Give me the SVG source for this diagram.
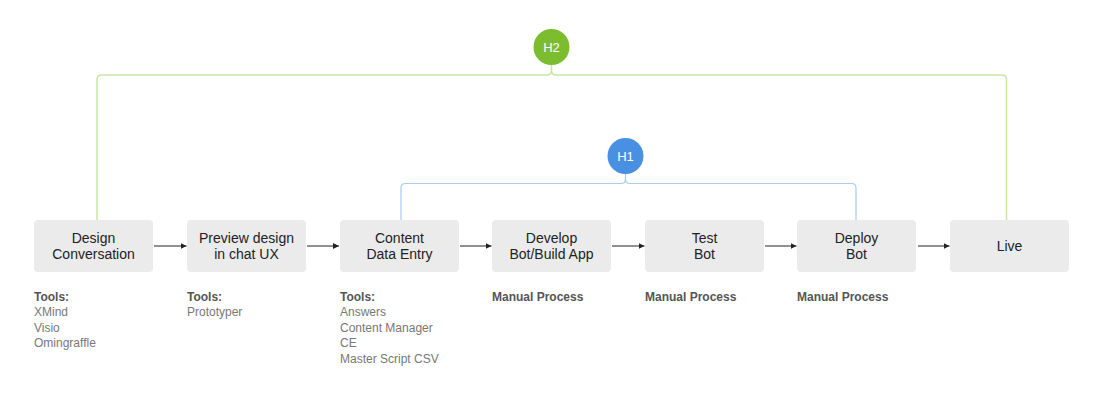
<svg xmlns="http://www.w3.org/2000/svg" width="1100" height="404" viewBox="0 0 1100 404">
<defs>
<style>
.box{fill:#EBEBEB;}
.bt{font-family:"Liberation Sans",Arial,sans-serif;font-size:14px;fill:#222;text-anchor:middle;}
.lh{font-family:"Liberation Sans",Arial,sans-serif;font-size:12px;font-weight:bold;fill:#555;}
.li{font-family:"Liberation Sans",Arial,sans-serif;font-size:12px;fill:#777;}
.ct{font-family:"Liberation Sans",Arial,sans-serif;font-size:13px;fill:#fff;text-anchor:middle;}
.arr{stroke:#222;stroke-width:1;fill:none;marker-end:url(#ah);}
.g{stroke:#C8E6A8;stroke-width:1.5;fill:none;}
.b{stroke:#A9CCF3;stroke-width:1.2;fill:none;}
</style>
<marker id="ah" viewBox="0 0 6 6" refX="6" refY="3" markerWidth="6" markerHeight="6" markerUnits="userSpaceOnUse" orient="auto">
<path d="M0,0 L6,3 L0,6 z" fill="#222"/>
</marker>
</defs>
<rect width="1100" height="404" fill="#fff"/>
<g id="connectors">
<path class="arr" d="M154,246 H186.5"/>
<path class="arr" d="M307,246 H339"/>
<path class="arr" d="M460,246 H491.5"/>
<path class="arr" d="M612,246 H644.5"/>
<path class="arr" d="M765,246 H796.5"/>
<path class="arr" d="M918,246 H949.5"/>
<path class="g" d="M97,220 V79.5 Q97,75 101.5,75 H547 Q551.5,75 551.5,70 Q551.5,75 556,75 H1002 Q1006.5,75 1006.5,79.5 V220"/>
<path class="g" d="M551.5,64 V70"/>
<path class="b" d="M401,220 V188 Q401,183.5 405.5,183.5 H621 Q625.5,183.5 625.5,179 Q625.5,183.5 630,183.5 H851.5 Q856,183.5 856,188 V220"/>
<path class="b" d="M625.5,174 V179"/>
</g>
<g id="h2"><circle cx="551.5" cy="47" r="18" fill="#7BBD2F"/><text class="ct" x="551.5" y="51.5">H2</text></g>
<g id="h1"><circle cx="625.5" cy="156" r="18" fill="#4A90E2"/><text class="ct" x="625.5" y="160.5">H1</text></g>
<g id="design"><rect class="box" x="34" y="220" width="119" height="52" rx="4"/><text class="bt" x="93.5" y="243">Design</text><text class="bt" x="93.5" y="259">Conversation</text>
<text class="lh" x="34" y="300.5">Tools:</text><text class="li" x="34" y="316">XMind</text><text class="li" x="34" y="331.5">Visio</text><text class="li" x="34" y="347">Omingraffle</text></g>
<g id="preview"><rect class="box" x="187" y="220" width="119" height="52" rx="4"/><text class="bt" x="246.5" y="243">Preview design</text><text class="bt" x="246.5" y="259">in chat UX</text>
<text class="lh" x="187" y="300.5">Tools:</text><text class="li" x="187" y="316">Prototyper</text></g>
<g id="content"><rect class="box" x="340" y="220" width="119" height="52" rx="4"/><text class="bt" x="399.5" y="243">Content</text><text class="bt" x="399.5" y="259">Data Entry</text>
<text class="lh" x="340" y="300.5">Tools:</text><text class="li" x="340" y="316">Answers</text><text class="li" x="340" y="331.5">Content Manager</text><text class="li" x="340" y="347">CE</text><text class="li" x="340" y="362.5">Master Script CSV</text></g>
<g id="develop"><rect class="box" x="492" y="220" width="119" height="52" rx="4"/><text class="bt" x="551.5" y="243">Develop</text><text class="bt" x="551.5" y="259">Bot/Build App</text>
<text class="lh" x="492" y="300.5">Manual Process</text></g>
<g id="test"><rect class="box" x="645" y="220" width="119" height="52" rx="4"/><text class="bt" x="704.5" y="243">Test</text><text class="bt" x="704.5" y="259">Bot</text>
<text class="lh" x="645" y="300.5">Manual Process</text></g>
<g id="deploy"><rect class="box" x="797" y="220" width="119" height="52" rx="4"/><text class="bt" x="856.5" y="243">Deploy</text><text class="bt" x="856.5" y="259">Bot</text>
<text class="lh" x="797" y="300.5">Manual Process</text></g>
<g id="live"><rect class="box" x="950" y="220" width="119" height="52" rx="4"/><text class="bt" x="1009.5" y="251">Live</text></g>
</svg>
